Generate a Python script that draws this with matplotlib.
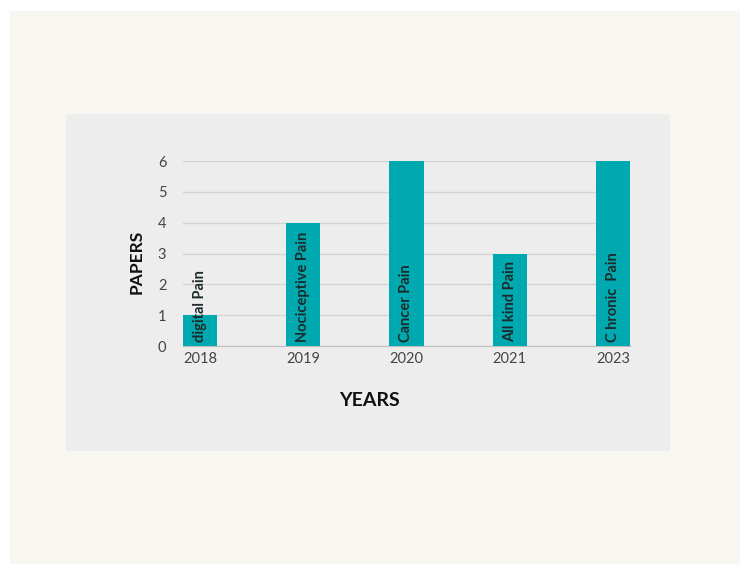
import matplotlib.pyplot as plt
from matplotlib.patches import Rectangle

years = ["2018", "2019", "2020", "2021", "2023"]
papers = [1, 4, 6, 3, 6]
topics = ["digital Pain", "Nociceptive Pain", "Cancer Pain", "All kind Pain", "C hronic  Pain"]

plt.rcParams['font.family'] = ['Lato', 'DejaVu Sans']

W, H = 740, 564
fig = plt.figure(figsize=(W / 100, H / 100), dpi=100)
fig.patch.set_facecolor("white")

# outer beige card and inner grey panel (pixel coords -> figure fraction)
def box(x0, y0, x1, y1, color):
    fig.patches.append(Rectangle((x0 / W, 1 - y1 / H), (x1 - x0) / W, (y1 - y0) / H,
                                 transform=fig.transFigure, facecolor=color,
                                 edgecolor="none", zorder=-10))

box(10, 11, 740, 564, "#f8f6f1")
box(66, 114, 670, 451, "#ededed")

# axes: x from 183 to 630 px, y=0 at 346 px, y=6 at 161 px
y0px, y6px = 346, 161
ax = fig.add_axes([183 / W, 1 - y0px / H, (630 - 183) / W, (y0px - y6px) / H])
ax.set_facecolor("none")

x = range(len(years))
bars = ax.bar(x, papers, width=0.33, color="#00a9b0", zorder=3)
ax.set_xlim(-0.165, len(years) - 1 + 0.165)
ax.set_ylim(0, 6)

for bar, label in zip(bars, topics):
    ax.text(bar.get_x() + bar.get_width() / 2, 0.12, label, rotation=90,
            ha="center", va="bottom", fontsize=10.5, fontweight="bold",
            color="#1c2b2b", zorder=4)

ax.set_xticks(list(x))
ax.set_xticklabels(years)
ax.set_yticks(range(0, 7))
ax.tick_params(axis="both", length=0, labelsize=10.5, colors="#444444")
ax.tick_params(axis="y", pad=12)
ax.tick_params(axis="x", pad=4)

ax.grid(axis="y", color="#d4d4d4", linewidth=1, zorder=0)
for s in ["top", "right", "left"]:
    ax.spines[s].set_visible(False)
ax.spines["bottom"].set_color("#bdbdbd")

fig.text(137 / W, 1 - 262 / H, "PAPERS", rotation=90, ha="center", va="center",
         fontsize=12.5, fontweight="bold", color="#111111")
fig.text(370 / W, 1 - 401 / H, "YEARS", ha="center", va="center",
         fontsize=14, fontweight="bold", color="#111111")

plt.savefig("out.png", dpi=100)
plt.close()
